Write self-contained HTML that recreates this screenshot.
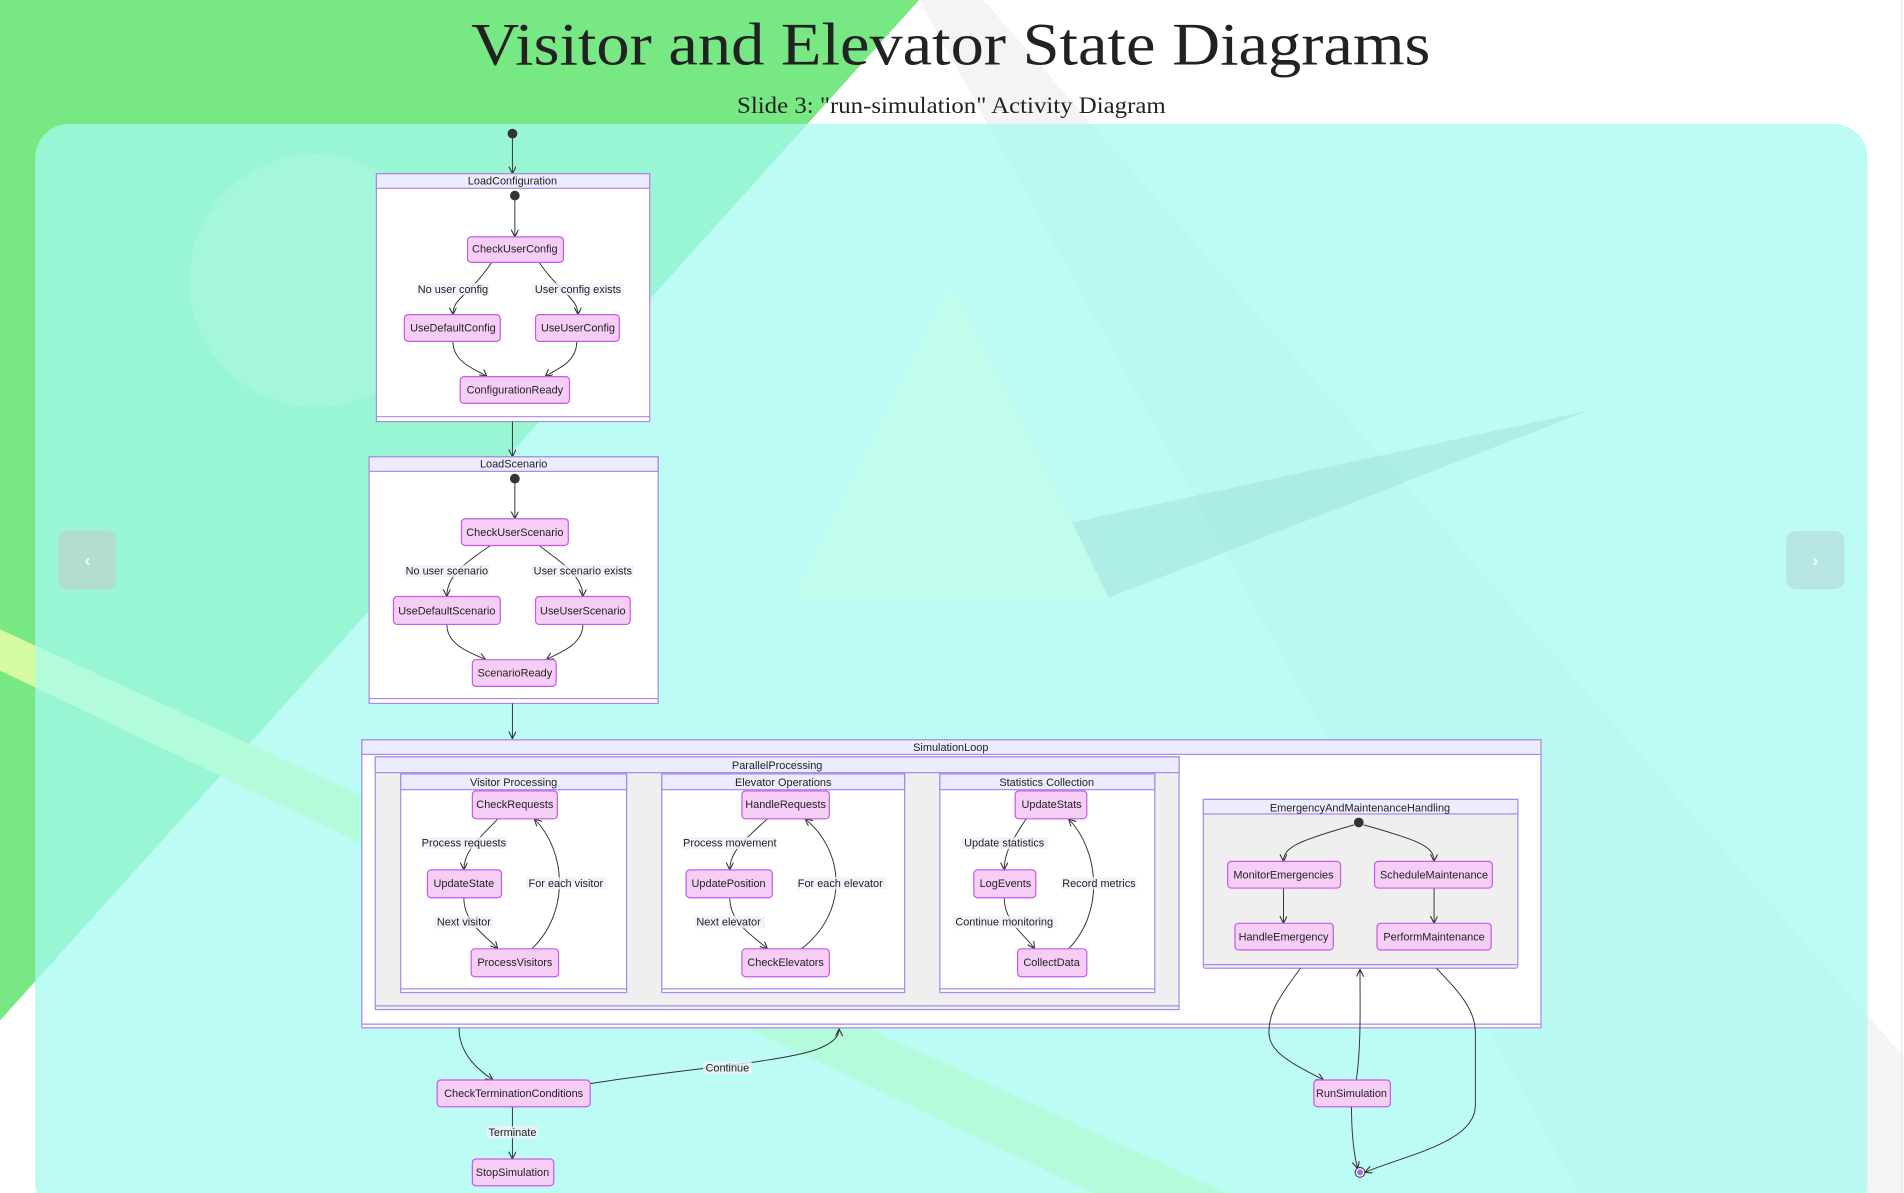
<!DOCTYPE html>
<html><head><meta charset="utf-8"><style>
html,body{margin:0;padding:0;width:1904px;height:1193px;overflow:hidden;background:#fff}
svg{display:block}
.n{fill:#f6cdf4;stroke:#c45de6;stroke-width:1}
.t{font-family:"Liberation Sans",sans-serif;font-size:9px;fill:#222;text-anchor:middle}
.h{fill:#ececff;stroke:#a98ae6;stroke-width:1}
.cb{fill:#fff;stroke:#a98ae6;stroke-width:1}
.g{fill:#efefef;stroke:#a98ae6;stroke-width:1}
.e{fill:none;stroke:#333;stroke-width:0.8;marker-end:url(#a)}
.l{fill:rgba(240,240,250,0.8)}
</style></head><body>
<svg width="1904" height="1193" viewBox="0 0 1568 982" preserveAspectRatio="none">
<defs><marker id="a" markerWidth="8" markerHeight="8" refX="6" refY="3" orient="auto" markerUnits="userSpaceOnUse"><path d="M0,0 L6,3 L0,6" fill="none" stroke="#333" stroke-width="0.9"/></marker></defs>
<rect width="1568" height="982" fill="#fff"/>
<polygon points="757,0 810,0 1568,870 1568,982 1300,982" fill="#f4f4f4"/>
<polygon points="0,0 757,0 0,840" fill="#77e884"/>
<polygon points="0,518 0,552 900,982 1010,982" fill="#d6fba0"/>
<line x1="1566" y1="0" x2="1566" y2="982" stroke="#e6e6e6"/>
<rect x="29" y="102" width="1509" height="900" rx="28" fill="rgba(164,251,241,0.73)"/>
<circle cx="260" cy="231" r="104" fill="rgba(255,255,255,0.12)"/>
<polygon points="783,235 655,492 913,492" fill="rgba(200,255,220,0.35)"/>
<polygon points="883,430 1308,338 913,492" fill="rgba(120,190,190,0.22)"/>
<rect x="48" y="437" width="48" height="48" rx="8" fill="#b4dccf"/>
<text x="72" y="466" font-family="Liberation Sans" font-size="14" fill="#fff" text-anchor="middle" font-weight="bold">‹</text>
<rect x="1471" y="437" width="48" height="48" rx="8" fill="#b7e6e2"/>
<text x="1495" y="466" font-family="Liberation Sans" font-size="14" fill="#fff" text-anchor="middle" font-weight="bold">›</text>
<text x="388" y="53" font-family="Liberation Serif,serif" font-size="50" fill="#222" textLength="790" lengthAdjust="spacingAndGlyphs">Visitor and Elevator State Diagrams</text>
<text x="607" y="93" font-family="Liberation Serif,serif" font-size="19" fill="#222" textLength="353" lengthAdjust="spacingAndGlyphs">Slide 3: "run-simulation" Activity Diagram</text>

<circle cx="422" cy="110" r="4" fill="#333"/>
<path class="e" d="M422,114 L422,143"/>
<rect class="cb" x="310" y="143" width="225" height="204"/>
<rect class="h" x="310" y="143" width="225" height="12"/>
<line x1="310" y1="343" x2="535" y2="343" stroke="#a98ae6"/>
<text class="t" x="422" y="152">LoadConfiguration</text>
<circle cx="424" cy="161" r="4" fill="#333"/>
<path class="e" d="M424,165 L424,195"/>
<path class="e" d="M405,216 C385,245 373,245 373,259"/>
<path class="e" d="M444,216 C460,240 476,245 476,259"/>
<path class="e" d="M373,281 C373,300 395,305 401,310"/>
<path class="e" d="M475,281 C475,300 455,305 449,310"/>
<rect class="l" x="343" y="233" width="60" height="10"/><text class="t" x="373" y="241">No user config</text>
<rect class="l" x="438" y="233" width="76" height="10"/><text class="t" x="476" y="241">User config exists</text>
<rect class="n" x="385" y="195" width="79" height="21" rx="3"/><text class="t" x="424" y="208">CheckUserConfig</text>
<rect class="n" x="333" y="259" width="79" height="22" rx="3"/><text class="t" x="373" y="273">UseDefaultConfig</text>
<rect class="n" x="441" y="259" width="69" height="22" rx="3"/><text class="t" x="476" y="273">UseUserConfig</text>
<rect class="n" x="379" y="310" width="90" height="22" rx="3"/><text class="t" x="424" y="324">ConfigurationReady</text>
<path class="e" d="M422,347 L422,376"/>
<rect class="cb" x="304" y="376" width="238" height="203"/>
<rect class="h" x="304" y="376" width="238" height="12"/>
<line x1="304" y1="575" x2="542" y2="575" stroke="#a98ae6"/>
<text class="t" x="423" y="385">LoadScenario</text>
<circle cx="424" cy="394" r="4" fill="#333"/>
<path class="e" d="M424,398 L424,427"/>
<path class="e" d="M404,449 C380,465 368,475 368,491"/>
<path class="e" d="M444,449 C465,465 480,475 480,491"/>
<path class="e" d="M368,514 C368,532 390,538 400,543"/>
<path class="e" d="M480,514 C480,532 458,538 450,543"/>
<rect class="l" x="333" y="465" width="70" height="10"/><text class="t" x="368" y="473">No user scenario</text>
<rect class="l" x="438" y="465" width="84" height="10"/><text class="t" x="480" y="473">User scenario exists</text>
<rect class="n" x="380" y="427" width="88" height="22" rx="3"/><text class="t" x="424" y="441">CheckUserScenario</text>
<rect class="n" x="324" y="491" width="88" height="23" rx="3"/><text class="t" x="368" y="506">UseDefaultScenario</text>
<rect class="n" x="441" y="491" width="78" height="23" rx="3"/><text class="t" x="480" y="506">UseUserScenario</text>
<rect class="n" x="389" y="543" width="69" height="22" rx="3"/><text class="t" x="424" y="557">ScenarioReady</text>
<path class="e" d="M422,579 L422,608"/>
<rect class="cb" x="298" y="609" width="971" height="237"/>
<rect class="h" x="298" y="609" width="971" height="12"/>
<line x1="298" y1="843" x2="1269" y2="843" stroke="#a98ae6"/>
<text class="t" x="783" y="618">SimulationLoop</text>
<rect class="g" x="309" y="623" width="662" height="208"/>
<rect class="h" x="309" y="623" width="662" height="13"/>
<line x1="309" y1="828" x2="971" y2="828" stroke="#a98ae6"/>
<text class="t" x="640" y="633">ParallelProcessing</text>
<rect class="cb" x="330" y="637" width="186" height="180"/>
<rect class="h" x="330" y="637" width="186" height="13"/>
<line x1="330" y1="814" x2="516" y2="814" stroke="#a98ae6"/>
<text class="t" x="423" y="647">Visitor Processing</text>
<path class="e" d="M410,674 C395,690 382,700 382,716"/>
<path class="e" d="M382,739 C382,760 400,770 410,781"/>
<path class="e" d="M438,781 C470,750 466,700 440,674"/>
<rect class="l" x="347" y="689" width="70" height="10"/><text class="t" x="382" y="697">Process requests</text>
<rect class="l" x="433" y="722" width="66" height="10"/><text class="t" x="466" y="730">For each visitor</text>
<rect class="l" x="358" y="754" width="48" height="10"/><text class="t" x="382" y="762">Next visitor</text>
<rect class="n" x="389" y="651" width="70" height="23" rx="3"/><text class="t" x="424" y="665">CheckRequests</text>
<rect class="n" x="352" y="716" width="61" height="23" rx="3"/><text class="t" x="382" y="730">UpdateState</text>
<rect class="n" x="388" y="781" width="72" height="23" rx="3"/><text class="t" x="424" y="795">ProcessVisitors</text>
<rect class="cb" x="545" y="637" width="200" height="180"/>
<rect class="h" x="545" y="637" width="200" height="13"/>
<line x1="545" y1="814" x2="745" y2="814" stroke="#a98ae6"/>
<text class="t" x="645" y="647">Elevator Operations</text>
<path class="e" d="M632,674 C615,690 601,700 601,716"/>
<path class="e" d="M601,739 C601,760 620,770 632,781"/>
<path class="e" d="M660,781 C700,750 695,700 663,674"/>
<rect class="l" x="563" y="689" width="76" height="10"/><text class="t" x="601" y="697">Process movement</text>
<rect class="l" x="656" y="722" width="74" height="10"/><text class="t" x="692" y="730">For each elevator</text>
<rect class="l" x="572" y="754" width="58" height="10"/><text class="t" x="600" y="762">Next elevator</text>
<rect class="n" x="611" y="651" width="72" height="23" rx="3"/><text class="t" x="647" y="665">HandleRequests</text>
<rect class="n" x="565" y="716" width="71" height="23" rx="3"/><text class="t" x="600" y="730">UpdatePosition</text>
<rect class="n" x="611" y="781" width="72" height="23" rx="3"/><text class="t" x="647" y="795">CheckElevators</text>
<rect class="cb" x="774" y="637" width="177" height="180"/>
<rect class="h" x="774" y="637" width="177" height="13"/>
<line x1="774" y1="814" x2="951" y2="814" stroke="#a98ae6"/>
<text class="t" x="862" y="647">Statistics Collection</text>
<path class="e" d="M845,674 C835,690 827,700 827,716"/>
<path class="e" d="M827,739 C827,760 845,770 852,781"/>
<path class="e" d="M880,781 C910,750 905,700 880,674"/>
<rect class="l" x="791" y="689" width="72" height="10"/><text class="t" x="827" y="697">Update statistics</text>
<rect class="l" x="874" y="722" width="62" height="10"/><text class="t" x="905" y="730">Record metrics</text>
<rect class="l" x="785" y="754" width="85" height="10"/><text class="t" x="827" y="762">Continue monitoring</text>
<rect class="n" x="836" y="651" width="59" height="23" rx="3"/><text class="t" x="866" y="665">UpdateStats</text>
<rect class="n" x="802" y="716" width="51" height="23" rx="3"/><text class="t" x="828" y="730">LogEvents</text>
<rect class="n" x="838" y="781" width="57" height="23" rx="3"/><text class="t" x="866" y="795">CollectData</text>
<rect class="g" x="991" y="658" width="259" height="139" rx="2"/>
<rect class="h" x="991" y="658" width="259" height="12"/>
<line x1="991" y1="794" x2="1250" y2="794" stroke="#a98ae6"/>
<text class="t" x="1120" y="668">EmergencyAndMaintenanceHandling</text>
<circle cx="1119" cy="677" r="4" fill="#333"/>
<path class="e" d="M1115,679 C1070,692 1057,697 1057,709"/>
<path class="e" d="M1123,679 C1170,692 1181,697 1181,709"/>
<path class="e" d="M1057,731 L1057,760"/>
<path class="e" d="M1181,731 L1181,760"/>
<rect class="n" x="1011" y="709" width="93" height="22" rx="3"/><text class="t" x="1057" y="723">MonitorEmergencies</text>
<rect class="n" x="1132" y="709" width="97" height="22" rx="3"/><text class="t" x="1181" y="723">ScheduleMaintenance</text>
<rect class="n" x="1017" y="760" width="81" height="22" rx="3"/><text class="t" x="1057" y="774">HandleEmergency</text>
<rect class="n" x="1134" y="760" width="94" height="22" rx="3"/><text class="t" x="1181" y="774">PerformMaintenance</text>
<path class="e" d="M1071,797 C1050,825 1045,835 1045,850 C1045,868 1070,878 1090,889"/>
<path class="e" d="M1117,889 C1121,860 1120,830 1120,798"/>
<path class="e" d="M1183,797 C1200,815 1215,830 1215,850 L1215,910 C1215,940 1160,950 1124,965"/>
<path class="e" d="M1113,911 C1113,935 1115,950 1118,962"/>
<circle cx="1120" cy="965" r="4" fill="#fff" stroke="#333" stroke-width="0.8"/>
<circle cx="1120" cy="965" r="2.5" fill="#9c6ee6"/>
<rect class="n" x="1082" y="889" width="63" height="22" rx="3"/><text class="t" x="1113" y="903">RunSimulation</text>
<path class="e" d="M378,846 C378,865 390,878 406,889"/>
<path class="e" d="M486,892 C560,880 640,875 672,864 C688,858 691,852 691,847"/>
<path class="e" d="M422,911 L422,954"/>
<rect class="l" x="579" y="874" width="40" height="10"/><text class="t" x="599" y="882">Continue</text>
<rect class="l" x="401" y="927" width="42" height="10"/><text class="t" x="422" y="935">Terminate</text>
<rect class="n" x="360" y="889" width="126" height="22" rx="3"/><text class="t" x="423" y="903">CheckTerminationConditions</text>
<rect class="n" x="389" y="954" width="67" height="22" rx="3"/><text class="t" x="422" y="968">StopSimulation</text>
</svg>
</body></html>
